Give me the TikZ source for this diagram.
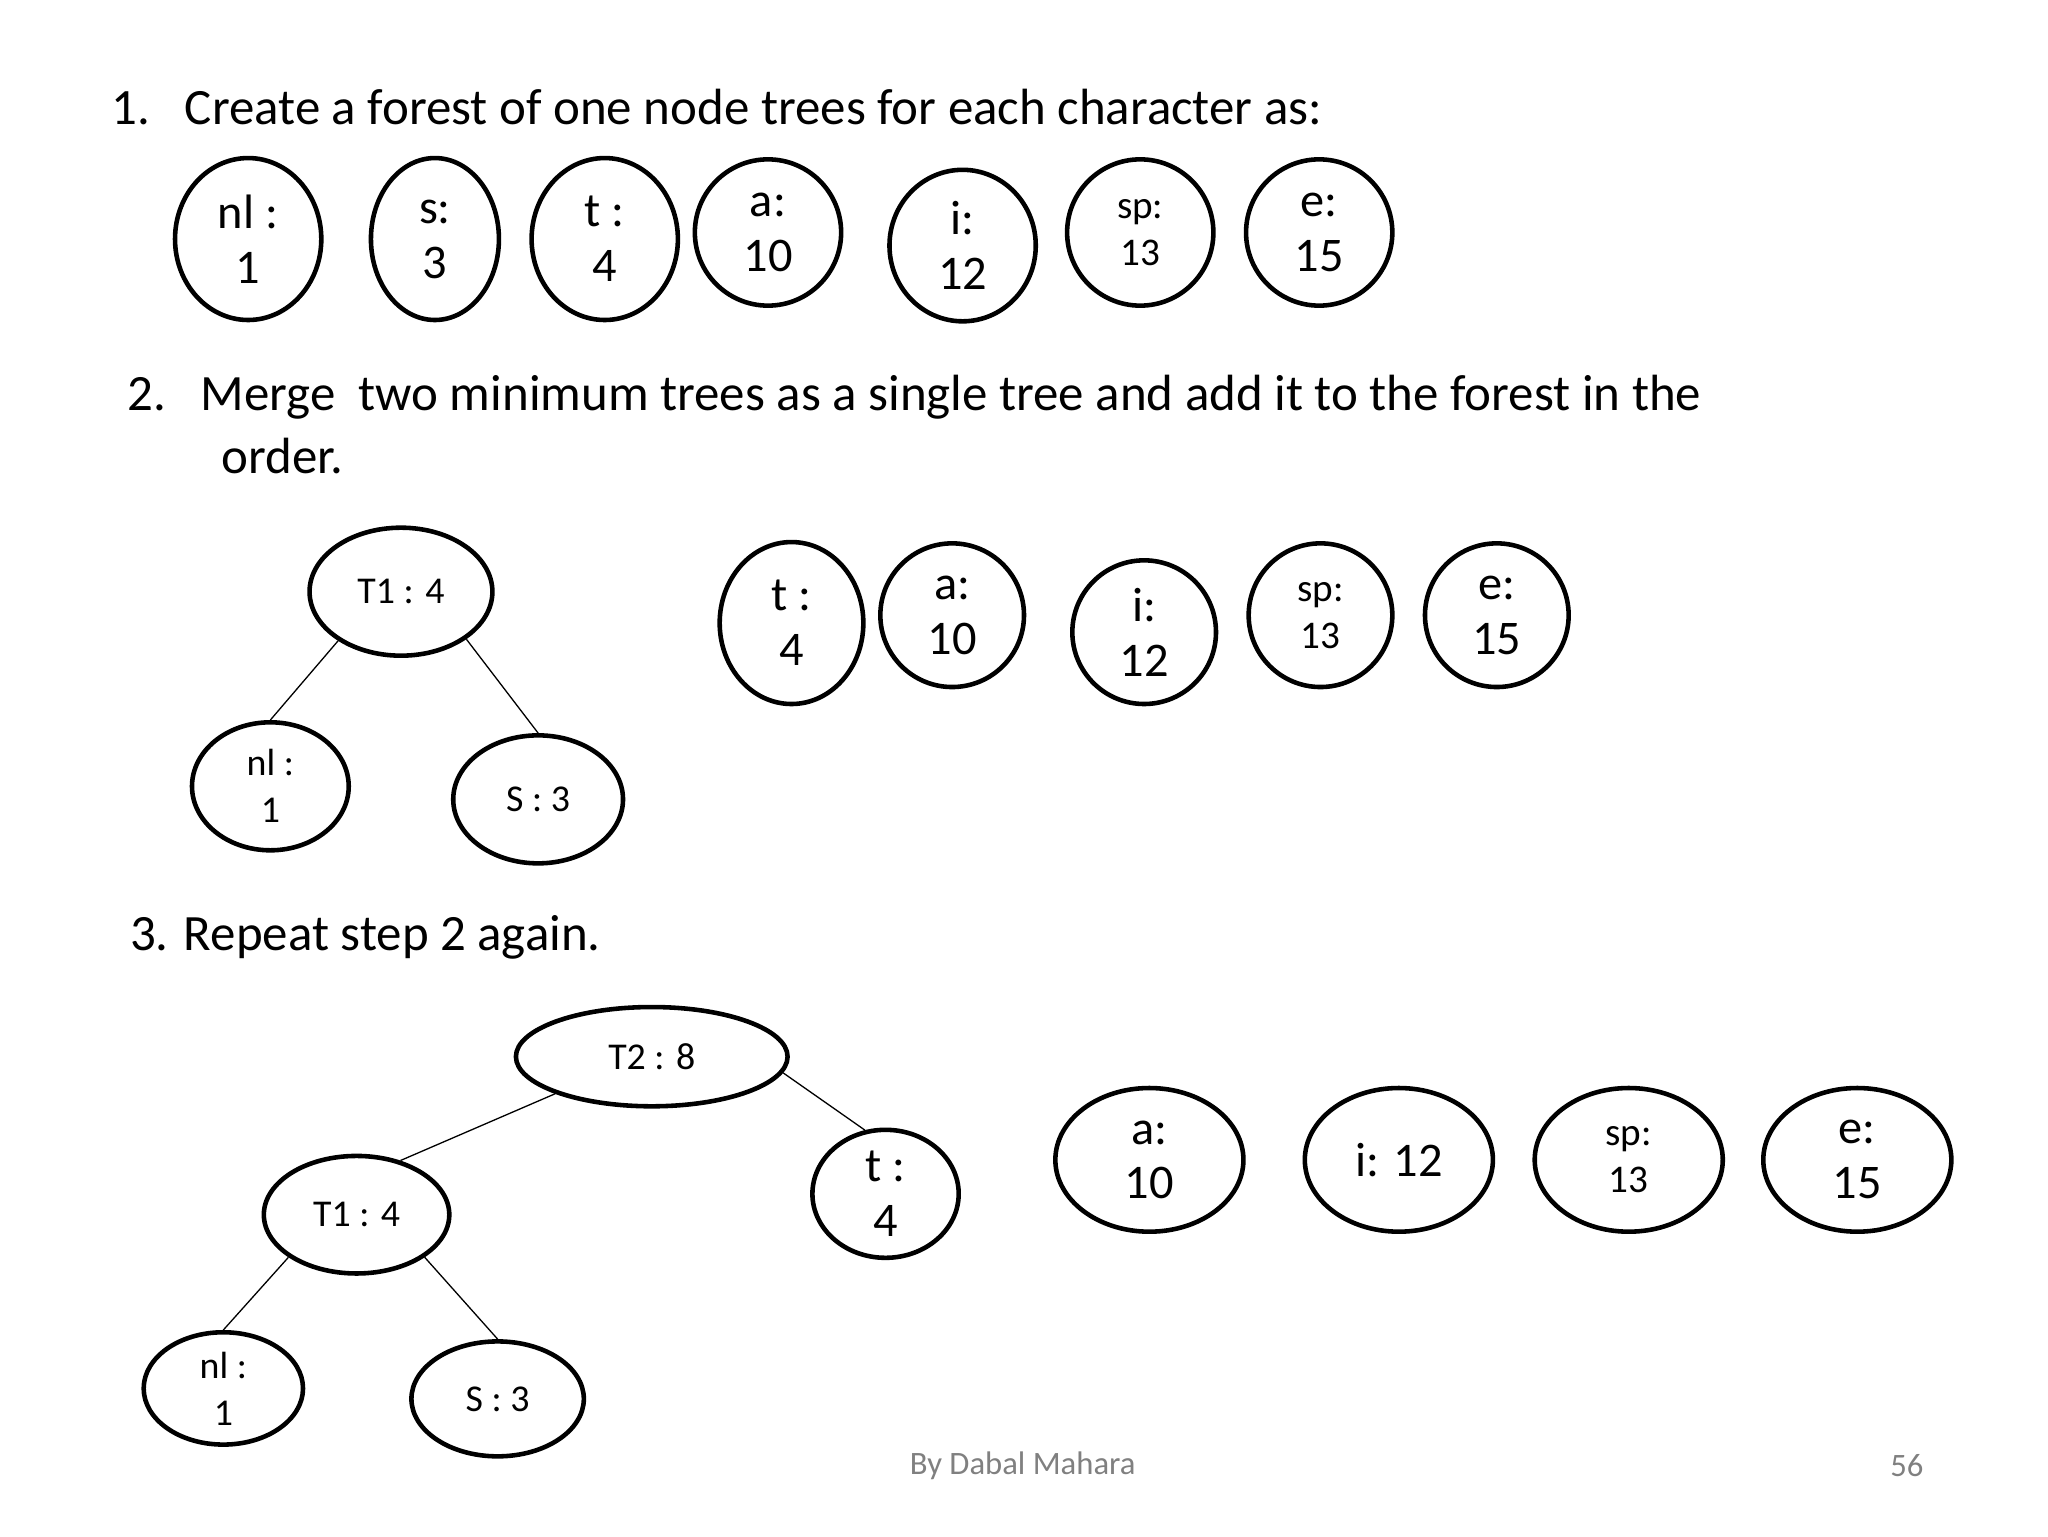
\documentclass[tikz,border=0pt]{standalone}
\usepackage{fontspec}
\setmainfont{Carlito}
\usetikzlibrary{shapes.geometric}
\begin{document}
\begin{tikzpicture}[x=1pt,y=-1pt,
  ell/.style={ellipse,draw,line width=3.5pt,inner sep=0pt,align=center},
  big/.style={font=\fontsize{37}{42}\selectfont},
  mid/.style={font=\fontsize{30}{36}\selectfont},
  sml/.style={font=\fontsize{29}{36}\selectfont},
  edge/.style={line width=1pt},
  txt/.style={anchor=west,font=\fontsize{39}{48}\selectfont,align=left}]
\useasboundingbox (0,0) rectangle (1568,1176);
\node[txt] (h1) at (82,82) {1.\ \ \ Create a forest of one node trees for each character as:};
\def\E#1#2#3#4#5#6{\node[ell,minimum width=#4*2pt,minimum height=#5*2pt,#6] (#1) at (#2,#3)}
\E{a1}{190}{183}{56}{62}{big} {nl :\\1};
\E{a2}{333}{183}{49}{62}{big} {s:\\3};
\E{a3}{463}{183}{56}{62}{big} {t :\\4};
\E{a4}{588}{178}{56}{56}{big} {a:\\10};
\E{a5}{737}{188}{56}{58}{big} {i:\\12};
\E{a6}{873}{178}{56}{56}{mid} {sp:\\13};
\E{a7}{1010}{178}{56}{56}{big} {e:\\15};
\node[txt] (h2) at (94,325) {2.\ \ \ Merge \ two minimum trees as a single tree and add it to the forest in the\\\hspace*{72pt}order.};
\E{b1}{307}{453}{70}{49}{sml} {T1 : 4};
\E{b2}{207}{602}{60}{49}{sml} {nl :\\1};
\E{b3}{412}{612}{65}{49}{sml} {S : 3};
\E{b4}{606}{477}{55}{62}{big} {t :\\4};
\E{b5}{729}{471}{55}{55}{big} {a:\\10};
\E{b6}{876}{484}{55}{55}{big} {i:\\12};
\E{b7}{1011}{471}{55}{55}{mid} {sp:\\13};
\E{b8}{1146}{471}{55}{55}{big} {e:\\15};
\draw[edge] (b1.218) -- (b2.north);
\draw[edge] (b1.-36) -- (b3.north);
\node[txt] (h3) at (96,718) {3. Repeat step 2 again.};
\E{c1}{499}{809}{104}{38}{sml} {T2 : 8};
\E{c2}{273}{930}{71}{45}{sml} {T1 : 4};
\E{c3}{171}{1063}{61}{43}{sml} {nl :\\1};
\E{c4}{381}{1071}{66}{44}{sml} {S : 3};
\E{c5}{678}{914}{56}{49}{big} {t :\\4};
\E{c6}{880}{888}{72}{55}{big} {a:\\10};
\E{c7}{1071}{888}{72}{55}{big} {i: 12};
\E{c8}{1247}{888}{72}{55}{mid} {sp:\\13};
\E{c9}{1422}{888}{72}{55}{big} {e:\\15};
\draw[edge] (c1.201) -- (c2.51);
\draw[edge] (c1.-7) -- (c5.108);
\draw[edge] (c2.212) -- (c3.north);
\draw[edge] (c2.-32) -- (c4.north);
\node[font=\fontsize{25}{30}\selectfont,text=gray] (f1) at (783,1122) {By Dabal Mahara};
\node[font=\fontsize{25}{30}\selectfont,text=gray] (f2) at (1460,1122) {56};
\end{tikzpicture}
\end{document}
